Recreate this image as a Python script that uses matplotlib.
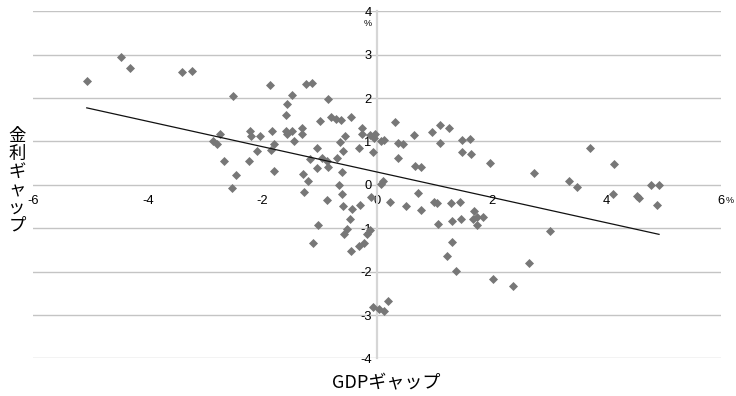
import numpy as np
import matplotlib
matplotlib.use("Agg")
import matplotlib.pyplot as plt

plt.rcParams['font.family'] = ['Liberation Sans', 'Noto Sans CJK JP', 'DejaVu Sans']
plt.rcParams['axes.unicode_minus'] = False

# GDP gap (x, %) and interest-rate gap (y, %)
gdp_gap = [
    -5.07, -4.48, -4.32, -3.40, -3.24, -2.51, -1.87, -1.25, -1.14, -1.49,
    -1.58, -1.59, -0.86, -0.99, -0.81, -0.72, -0.64, -0.45, -0.27, -2.75,
    -2.86, -2.79, -2.68, -2.46, -2.54, -2.22, -2.20, -2.04, -2.09, -2.24,
    -1.83, -1.81, -1.86, -1.81, -1.60, -1.57, -1.49, -1.46, -1.31, -1.31,
    -1.05, -1.18, -1.05, -0.97, -0.87, -0.86, -1.29, -1.21, -1.28, -0.87,
    -0.67, -0.61, -0.70, -0.60, -0.65, -0.56, -0.61, -0.32, -0.08, -0.26,
    -0.13, -0.03, -0.06, 0.06, 0.12, -0.59, -0.44, -0.30, -0.10, -0.47,
    -0.52, -0.58, -1.04, -1.12, -0.13, -0.18, -0.23, -0.31, -0.45, -0.08,
    0.03, 0.12, 0.18,
    0.31, 0.36, 0.45, 0.36, 0.64, 0.66, 0.77, 0.96, 1.10, 1.25,
    1.09, 1.48, 1.62, 1.48, 1.63, 1.97, 0.10, 0.07, 0.72, 0.22,
    0.51, 0.76, 1.00, 1.04, 1.28, 1.44, 1.06, 1.31, 1.46, 1.69,
    1.67, 1.74, 1.84, 1.74, 1.30, 1.21, 1.37, 2.02, 2.37, 2.65,
    3.01, 2.73, 3.35, 3.48, 3.71, 4.14, 4.78, 4.92, 4.12, 4.54,
    4.57, 4.89,
]
rate_gap = [
    2.39, 2.95, 2.69, 2.60, 2.62, 2.05, 2.30, 2.32, 2.34, 2.07,
    1.86, 1.61, 1.97, 1.46, 1.57, 1.52, 1.49, 1.57, 1.30, 1.17,
    1.00, 0.95, 0.55, 0.22, -0.07, 1.24, 1.13, 1.13, 0.78, 0.55,
    1.25, 0.93, 0.81, 0.31, 1.23, 1.16, 1.25, 1.01, 1.30, 1.18,
    0.85, 0.60, 0.39, 0.61, 0.55, 0.42, 0.25, 0.10, -0.16, -0.34,
    0.00, -0.21, 0.63, 0.77, 0.99, 1.12, 0.29, 0.84, 0.76, 1.17,
    1.15, 1.18, 1.08, 1.00, 1.03, -0.49, -0.56, -0.47, -0.29, -0.78,
    -1.01, -1.14, -0.92, -1.33, -1.03, -1.14, -1.33, -1.42, -1.52, -2.81,
    -2.87, -2.90, -2.67,
    1.44, 0.96, 0.94, 0.62, 1.15, 0.44, 0.42, 1.21, 1.38, 1.32,
    0.96, 1.03, 1.05, 0.76, 0.72, 0.51, 0.09, 0.02, -0.18, -0.39,
    -0.48, -0.58, -0.39, -0.41, -0.41, -0.39, -0.91, -0.83, -0.79, -0.61,
    -0.79, -0.75, -0.74, -0.92, -1.31, -1.64, -1.98, -2.17, -2.33, -1.79,
    -1.06, 0.27, 0.09, -0.04, 0.86, 0.48, -0.01, -0.01, -0.22, -0.26,
    -0.30, -0.46,
]
x_ticks = [-6, -4, -2, 0, 2, 4, 6]
y_ticks = [-4, -3, -2, -1, 0, 1, 2, 3, 4]

x = np.array(gdp_gap)
y = np.array(rate_gap)

fig = plt.figure(figsize=(7.36, 3.96), dpi=100)
ax = fig.add_axes([0.0455, 0.0947, 0.934, 0.877])

ax.scatter(x, y, marker='D', s=4.6 ** 2, color='#777777', linewidths=0, zorder=3)

# linear trend over the data range
slope, icept = np.polyfit(x, y, 1)
xs = np.array([x.min(), x.max()])
ax.plot(xs, slope * xs + icept, color='#111111', lw=0.9, zorder=4)

ax.set_xlim(-6, 6)
ax.set_ylim(-4, 4)
ax.set_xticks(x_ticks)
ax.set_yticks(y_ticks)
ax.set_xticklabels([str(v) for v in x_ticks])
ax.set_yticklabels([str(v) for v in y_ticks])

ax.yaxis.grid(True, color='#c4c4c4', lw=1.0)
ax.set_axisbelow(True)

for side in ['top', 'right']:
    ax.spines[side].set_visible(False)
ax.spines['left'].set_position(('data', 0))
ax.spines['left'].set_color('#d6d6d6')
ax.spines['left'].set_linewidth(1.6)
ax.spines['bottom'].set_position(('data', 0))
ax.spines['bottom'].set_color('none')

ax.tick_params(axis='both', length=0, labelsize=9.3, colors='#000000')
ax.tick_params(axis='x', pad=7)
ax.tick_params(axis='y', pad=4)

# unit marks
ax.text(-0.16, 3.72, '%', fontsize=6.5, ha='center', va='center')
ax.text(6.15, -0.36, '%', fontsize=6.5, ha='center', va='center')

fig.text(0.525, 0.032, 'GDPギャップ', fontsize=13, ha='center', va='center',
         family=['Noto Sans CJK JP', 'DejaVu Sans'])
fig.text(0.023, 0.543, '\n'.join('金利ギャップ'), fontsize=12.5, ha='center',
         va='center', linespacing=1.0, family=['Noto Sans CJK JP', 'DejaVu Sans'])

fig.savefig('out.png', dpi=100)
